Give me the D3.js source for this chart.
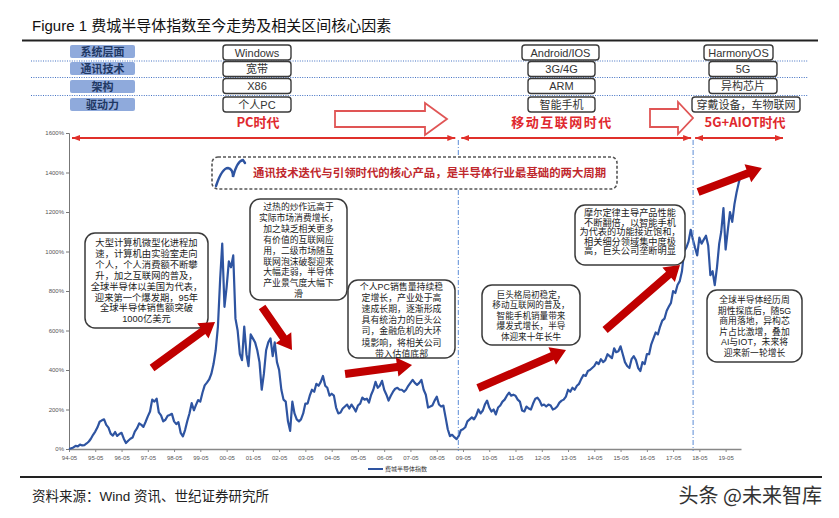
<!DOCTYPE html>
<html><head><meta charset="utf-8">
<script src="https://cdn.jsdelivr.net/npm/d3@7"></script>
<style>
body{margin:0;background:#fff;}
svg{display:block;font-family:"Liberation Sans","Noto Sans CJK SC",sans-serif;}
</style></head><body>
<svg id="c" width="839" height="518"></svg>
<script>
// ---------------- DATA ----------------
const seriesName = "费城半导体指数";
const startMonth = "1994-05";
// cumulative change since 1994-05, %, monthly
const soxPct = [
  0,4,8,16,13,22,18,20,                                 // 1994 May-Dec
  28,38,52,72,88,110,138,145,150,122,108,78,            // 1995
  68,86,66,76,82,52,30,42,52,58,88,104,                 // 1996
  130,122,112,138,165,190,250,240,255,185,170,140,      // 1997
  148,168,172,178,140,126,136,82,64,96,142,180,         // 1998
  232,196,222,248,240,286,322,336,352,380,430,500,      // 1999
  620,860,1040,720,820,950,920,980,660,600,480,450,     // 2000
  620,480,420,580,560,540,500,440,300,380,500,540,      // 2001
  560,470,540,440,400,300,250,240,140,92,240,180,       // 2002
  150,140,150,180,230,230,270,300,290,330,320,340,      // 2003
  370,320,310,270,280,270,210,180,185,205,215,225,      // 2004
  205,225,210,190,220,230,260,250,255,235,275,300,      // 2005
  340,310,320,345,300,275,245,270,290,305,310,300,      // 2006
  300,290,300,320,335,350,335,325,335,350,300,275,      // 2007
  210,215,220,245,265,225,215,220,160,100,65,72,        // 2008
  60,50,65,95,100,110,140,150,160,150,170,200,          // 2009
  180,195,225,245,210,190,200,175,210,220,240,250,      // 2010
  270,285,270,275,270,250,240,195,190,215,205,200,      // 2011
  230,255,260,245,220,225,215,225,220,200,205,215,      // 2012
  235,245,250,265,300,290,310,300,320,330,355,375,      // 2013
  370,395,400,410,420,440,430,455,440,450,480,470,      // 2014
  460,510,490,495,520,480,440,420,410,455,470,450,      // 2015
  410,395,440,430,480,480,530,560,590,580,620,650,      // 2016
  660,700,720,740,800,790,830,850,900,1000,1020,1050,   // 2017
  1110,1060,1020,980,1070,1040,1060,1080,1030,880,900,830, // 2018
  920,1040,1100,1220,1010,1110,1200,1150,1240,1300,1350,1390 // 2019
];
const xTickLabels = ["94-05","95-05","96-05","97-05","98-05","99-05","00-05","01-05","02-05","03-05","04-05","05-05","06-05","07-05","08-05","09-05","10-05","11-05","12-05","13-05","14-05","15-05","16-05","17-05","18-05","19-05"];
const yTickValues = [0,200,400,600,800,1000,1200,1400,1600];
const eraBreaks = [2009.15, 2018.09];           // decimal years of era boundaries
const eraNames = ["PC时代","移动互联网时代","5G+AIOT时代"];
const rowLabels = ["系统层面","通讯技术","架构","驱动力"];
const pcEra = ["Windows","宽带","X86","个人PC"];
const mobileEra = ["Android/IOS","3G/4G","ARM","智能手机"];
const aiotEra = ["HarmonyOS","5G","异构芯片","穿戴设备，车物联网"];
const bannerText = "通讯技术迭代与引领时代的核心产品，是半导体行业最基础的两大周期";
const noteA = ["大型计算机微型化进程加","速，计算机由实验室走向","个人，个人消费额不断攀","升，加之互联网的普及，","全球半导体以美国为代表，","迎来第一个爆发期，95年","全球半导体销售额突破","1000亿美元"];
const noteB = ["过热的炒作远高于","实际市场消费增长，","加之缺乏相关更多","有价值的互联网应","用，二级市场随互","联网泡沫破裂迎来","大幅走弱，半导体","产业景气度大幅下","滑"];
const noteC = ["个人PC销售量持续稳","定增长，产业处于高","速成长期，逐渐形成","具有统治力的巨头公","司，金融危机的大环","境影响，将相关公司","带入估值底部"];
const noteD = ["巨头格局初稳定，","移动互联网的普及，","智能手机销量带来","爆发式增长，半导","体迎来十年长牛"];
const noteE = ["摩尔定律主导产品性能","不断翻倍，以智能手机","为代表的功能接近饱和，","相关细分领域集中度极","高，巨头公司垄断明显"];
const noteF = ["全球半导体经历周","期性探底后，随5G","商用落地，异构芯","片占比激增，叠加","AI与IOT，未来将","迎来新一轮增长"];
// trend arrows in data space: [fromYear, fromPct, toYear, toPct]
const trendArrows = [
  [1997.49,410, 1999.89,643],
  [2001.68,719, 2002.82,501],
  [2004.84,380, 2007.39,425],
  [2009.90,309, 2013.25,501],
  [2014.74,603, 2017.59,932],
  [2018.28,1301, 2020.71,1423]
];
const sourceText = "资料来源：Wind 资讯、世纪证券研究所";
const watermark = "头条 @未来智库";

// ---------------- SETUP ----------------
const svg = d3.select("#c");
const parseYM = d3.timeParse("%Y-%m");
const parseTick = d3.timeParse("%y-%m");
const t0 = parseYM(startMonth);
const points = soxPct.map((v,i)=>({date:d3.timeMonth.offset(t0,i), v}));
const x = d3.scaleTime().domain([t0, points[points.length-1].date]).range([69,741]);
const y = d3.scaleLinear().domain([0,1600]).range([449,133]);
function dy(v){const yr=Math.floor(v);const a=new Date(yr,0,1),b=new Date(yr+1,0,1);return new Date(+a+(v-yr)*(b-a));}
const CJK = '"Noto Sans CJK SC","Liberation Sans",sans-serif';

// title
svg.append("text").attr("x",32).attr("y",31).attr("font-size",15).attr("fill","#111")
  .text("Figure 1  费城半导体指数至今走势及相关区间核心因素");
svg.append("line").attr("x1",22).attr("x2",818).attr("y1",40.5).attr("y2",40.5).attr("stroke","#222").attr("stroke-width",2);

// header table
const rowTops=[45,61.5,78.5,97];
const labelTops=[45,62,80,98];
[61,77.5,95.5].forEach(yy=>svg.append("line").attr("x1",31).attr("x2",808).attr("y1",yy).attr("y2",yy)
  .attr("stroke","#4472C4").attr("stroke-width",1.2).attr("stroke-dasharray","1,1.4"));
rowLabels.forEach((t,i)=>{
  svg.append("rect").attr("x",70).attr("y",labelTops[i]).attr("width",65).attr("height",13).attr("rx",2)
    .attr("fill","#8FAADC");
  svg.append("text").attr("x",102.5).attr("y",labelTops[i]+10.5).attr("text-anchor","middle")
    .attr("font-size",11).attr("font-weight","bold").attr("fill","#1F3864").style("font-family",CJK).text(t);
});
const cols=[
  {items:pcEra, cx:[257,257,257,257], w:[68,68,68,68]},
  {items:mobileEra, cx:[560.5,561.5,561.5,561.5], w:[77,67,67,67]},
  {items:aiotEra, cx:[738.5,743,743,746], w:[69,68,68,108]}
];
cols.forEach(c=>c.items.forEach((t,i)=>{
  svg.append("rect").attr("x",c.cx[i]-c.w[i]/2).attr("y",rowTops[i]).attr("width",c.w[i]).attr("height",15).attr("rx",3)
    .attr("fill","#fff").attr("stroke","#3a3a3a").attr("stroke-width",1.4);
  svg.append("text").attr("x",c.cx[i]).attr("y",rowTops[i]+11.5).attr("text-anchor","middle")
    .attr("font-size",11).attr("fill","#333").text(t);
}));

// era labels
const eraX=[258,562,745];
eraNames.forEach((t,i)=>svg.append("text").attr("x",eraX[i]).attr("y",127).attr("text-anchor","middle")
  .attr("font-size",13).attr("font-weight","bold").attr("fill","#E0282E").attr("letter-spacing",i==1?1.5:0)
  .style("font-family",CJK).text(t));

// hollow arrows
function hollowArrow(x0,x1,hx,by0,by1,hy0,hy1){
  const tipY=(hy0+hy1)/2;
  svg.append("path").attr("d",`M${x0},${by0} L${hx},${by0} L${hx},${hy0} L${x1},${tipY} L${hx},${hy1} L${hx},${by1} L${x0},${by1} Z`)
    .attr("fill","#fff").attr("stroke","#E05555").attr("stroke-width",1.8);
}
hollowArrow(335,447,425,111,127,103,135);
hollowArrow(650,693,678,109,127,102,134);

// top double arrows
const defs=svg.append("defs");
defs.append("marker").attr("id","ah").attr("viewBox","0 0 8 6").attr("refX",8).attr("refY",3)
  .attr("markerWidth",8).attr("markerHeight",6).attr("markerUnits","userSpaceOnUse").attr("orient","auto-start-reverse")
  .append("path").attr("d","M0,0 L8,3 L0,6 Z").attr("fill","#E0302A");
const segs=[[x(t0)+3, x(dy(eraBreaks[0]))-3],[x(dy(eraBreaks[0]))+3, x(dy(eraBreaks[1]))-2],[x(dy(eraBreaks[1]))+2, 783]];
segs.forEach(s=>svg.append("line").attr("x1",s[0]).attr("x2",s[1]).attr("y1",138).attr("y2",138)
  .attr("stroke","#E0302A").attr("stroke-width",2).attr("marker-start","url(#ah)").attr("marker-end","url(#ah)"));

// axes
const yAxis=svg.append("g").attr("transform","translate(69,0)")
  .call(d3.axisLeft(y).tickValues(yTickValues).tickSize(3).tickFormat(d=>d+"%"));
yAxis.select(".domain").attr("stroke","#777");
yAxis.selectAll("line").attr("stroke","#777");
yAxis.selectAll("text").attr("font-size",6).attr("fill","#555").attr("x",-5);
const xAxis=svg.append("g").attr("transform","translate(0,449)")
  .call(d3.axisBottom(x).tickValues(xTickLabels.map(parseTick)).tickSize(3).tickSizeOuter(0).tickFormat(d3.timeFormat("%y-%m")));
xAxis.select(".domain").attr("stroke","#888").attr("stroke-width",1.6);
xAxis.selectAll("line").attr("stroke","#888");
xAxis.selectAll("text").attr("font-size",6).attr("fill","#555").attr("dy","0.9em");

// series line
svg.append("path").datum(points)
  .attr("d",d3.line().x(d=>x(d.date)).y(d=>y(d.v)))
  .attr("fill","none").attr("stroke","#2E54A1").attr("stroke-width",2.2).attr("stroke-linejoin","round");

// era dashed lines
eraBreaks.forEach(b=>svg.append("line").attr("x1",x(dy(b))).attr("x2",x(dy(b))).attr("y1",140).attr("y2",451)
  .attr("stroke","#5B8BD6").attr("stroke-width",1).attr("stroke-dasharray","5,2,1,2"));

// banner
svg.append("rect").attr("x",212).attr("y",157).attr("width",405).attr("height",32).attr("rx",6)
  .attr("fill","#fff").attr("stroke","#555").attr("stroke-width",1.6).attr("stroke-dasharray","3,2");
svg.append("path").attr("d","M216,186 Q222,168 228,168 Q233,169 233,177 Q237,161 243,160 L245,163")
  .attr("fill","none").attr("stroke","#2E54A1").attr("stroke-width",2.4).attr("stroke-linecap","round");
svg.append("text").attr("x",253).attr("y",177).attr("font-size",11.4).attr("font-weight","bold").attr("fill","#C0282D")
  .style("font-family",CJK).text(bannerText);

// notes
function note(lines,x0,y0,w,h,fs,lh,firstY){
  svg.append("rect").attr("x",x0).attr("y",y0).attr("width",w).attr("height",h).attr("rx",10)
    .attr("fill","#fff").attr("stroke","#3a3a3a").attr("stroke-width",1.5);
  const t=svg.append("text").attr("font-size",fs).attr("fill","#222").attr("text-anchor","middle");
  lines.forEach((l,i)=>t.append("tspan").attr("x",x0+w/2).attr("y",firstY+i*lh).text(l));
}
note(noteA,85,233,123,95,9.3,10.9,246);
note(noteB,250,199,97,101,8.8,10.9,210);
note(noteC,348,280,107,78,8.9,11.1,290);
note(noteD,482,285,98,60,8.6,10.4,298);
note(noteE,575,205,110,60,9.2,9.5,216);
note(noteF,707,290,95,72,8.8,10.6,303);

// trend arrows
function thickArrow(p0,p1,bw,hw,hl){
  const dx=p1[0]-p0[0],dyv=p1[1]-p0[1],L=Math.hypot(dx,dyv),ux=dx/L,uy=dyv/L,nx=-uy,ny=ux;
  const bx=p1[0]-ux*hl,by=p1[1]-uy*hl;
  const pts=[[p0[0]+nx*bw/2,p0[1]+ny*bw/2],[bx+nx*bw/2,by+ny*bw/2],[bx+nx*hw/2,by+ny*hw/2],p1,
    [bx-nx*hw/2,by-ny*hw/2],[bx-nx*bw/2,by-ny*bw/2],[p0[0]-nx*bw/2,p0[1]-ny*bw/2]];
  svg.append("path").attr("d","M"+pts.map(p=>p.join(",")).join("L")+"Z").attr("fill","#C00000");
}
trendArrows.forEach(a=>thickArrow([x(dy(a[0])),y(a[1])],[x(dy(a[2])),y(a[3])],8,19,15));

// legend
svg.append("line").attr("x1",368).attr("x2",383).attr("y1",469).attr("y2",469).attr("stroke","#2E54A1").attr("stroke-width",2);
svg.append("text").attr("x",385).attr("y",471).attr("font-size",6).attr("fill","#333").style("font-family",CJK).text(seriesName);

// footer
svg.append("line").attr("x1",20).attr("x2",822).attr("y1",477).attr("y2",477).attr("stroke","#222").attr("stroke-width",2);
svg.append("text").attr("x",32).attr("y",501).attr("font-size",13.5).attr("fill","#222").text(sourceText);
svg.append("text").attr("x",822).attr("y",503).attr("text-anchor","end").attr("font-size",20).attr("fill","#333").style("font-family",CJK).text(watermark);
</script>
</body></html>
